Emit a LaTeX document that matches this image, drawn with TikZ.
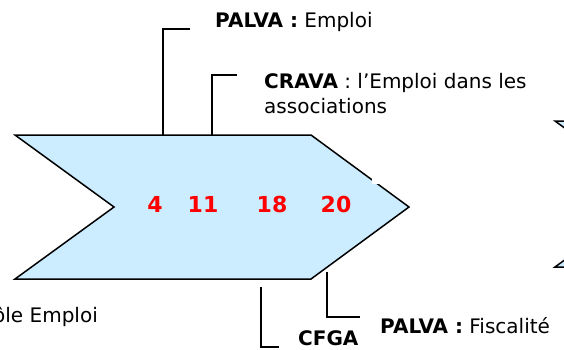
\documentclass[tikz,border=0pt]{standalone}
\usepackage{fontspec}
\setmainfont{DejaVu Sans}
\usepackage{tikz}
\usetikzlibrary{calc,positioning}
\definecolor{mylightblue}{RGB}{204,236,255}
\tikzstyle{chevron}=[draw,fill=mylightblue,line width=1.5pt,line join=miter]
\tikzstyle{number}=[text=red,font=\fontsize{22}{24}\selectfont\bfseries,inner sep=0pt]
\tikzstyle{tag}=[anchor=west,font=\fontsize{20}{25}\selectfont,inner sep=0pt,align=left]
\tikzstyle{leader}=[line width=1.6pt]

\begin{document}
\begin{tikzpicture}[x=1pt,y=-1pt]
\useasboundingbox (0,0) rectangle (564,349);
\clip (0,0) rectangle (564,349);
% the two chevrons
\draw [chevron] (15,135) -- (311,135) -- (409,207) -- (311,279) -- (15,279) -- (114,207) -- cycle;
\fill [white] (372,178) rectangle (379,184);
\draw [chevron] (555,121) -- (860,121) -- (960,194) -- (860,267) -- (555,267) -- (655,194) -- cycle;
% dates
\node [number] (n4) at (155,204) {4};
\node [number] (n11) at (203,204) {11};
\node [number] (n18) at (272,204) {18};
\node [number] (n20) at (336,204) {20};
% texts
\node [tag] (emploi) at (215,22) {\textbf{PALVA :} Emploi};
\node [tag] (crava) at (264,94) {\textbf{CRAVA} : l’Emploi dans les\\associations};
\node [tag] (fisc) at (380,326) {\textbf{PALVA :} Fiscalité};
\node [tag] (cfga) at (298,338) {\textbf{CFGA}};
\node [tag,anchor=east] (pole) at (98,317) {Pôle Emploi};
% leaders
\coordinate (e1) at (163,135);
\coordinate (e2) at (212,135);
\coordinate (e3) at (327,272);
\coordinate (e4) at (261,287);
\draw [leader] (e1) |- (190,29);
\draw [leader] (e2) |- (237,75);
\draw [leader] (e3) |- (360,317);
\draw [leader] (e4) |- (279,347);
\end{tikzpicture}
\end{document}
